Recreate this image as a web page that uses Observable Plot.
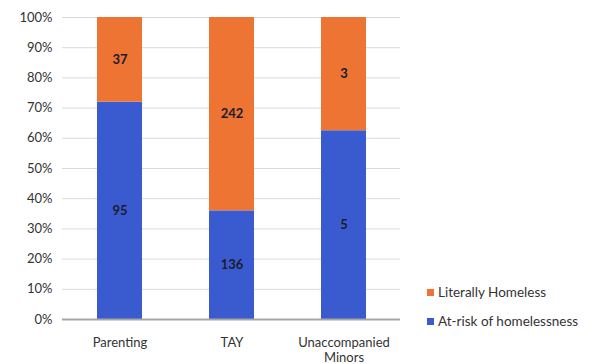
<!DOCTYPE html>
<html>
<head>
<meta charset="utf-8">
<script src="https://cdn.jsdelivr.net/npm/d3@7"></script>
<script src="https://cdn.jsdelivr.net/npm/@observablehq/plot@0.6"></script>
<style>
  html, body { margin: 0; padding: 0; background: #fff; }
  #wrap { position: relative; width: 597px; height: 364px; font-family: Lato, "Open Sans", sans-serif; }
  .legend { position: absolute; left: 427px; font-size: 13.5px; color: #333; display: flex; align-items: center; }
  .legend span.sw { display: inline-block; width: 7px; height: 7px; margin-right: 4px; }
</style>
</head>
<body>
<div id="wrap"></div>
<script>
// Stacked 100% bars: homelessness status by youth group
const groups = ["Parenting", "TAY", "Unaccompanied\nMinors"];
const atRisk = [95, 136, 5];
const literally = [37, 242, 3];
const seriesNames = ["At-risk of homelessness", "Literally Homeless"];
const seriesColors = ["#3a5bd0", "#ee7434"];
const yTicks = [0, 0.1, 0.2, 0.3, 0.4, 0.5, 0.6, 0.7, 0.8, 0.9, 1];

const rows = [];
groups.forEach((g, i) => {
  rows.push({group: g, status: seriesNames[0], value: atRisk[i]});
  rows.push({group: g, status: seriesNames[1], value: literally[i]});
});

const stackOpts = {offset: "normalize", x: "group", y: "value", z: "status", order: seriesNames};

const chart = Plot.plot({
  width: 597,
  height: 364,
  marginLeft: 62,
  marginRight: 197,
  marginTop: 17,
  marginBottom: 45,
  style: {fontFamily: "Lato, 'Open Sans', sans-serif", fontSize: "13px", color: "#333", background: "#fff"},
  x: {domain: groups, paddingInner: 0.6, paddingOuter: 0.3, label: null},
  y: {domain: [0, 1], ticks: yTicks, tickFormat: d3.format(".0%"), label: null, tickSize: 0, tickPadding: 10},
  color: {domain: seriesNames, range: seriesColors},
  marks: [
    Plot.ruleY(yTicks.slice(1), {stroke: "#d9d9d9", strokeWidth: 1}),
    Plot.barY(rows, Plot.stackY({...stackOpts, fill: "status"})),
    Plot.ruleY([0], {stroke: "#a6a6a6", strokeWidth: 2}),
    Plot.text(rows, Plot.stackY({...stackOpts, text: "value", fill: "#1b1b2e", fontSize: 13, fontWeight: "bold"})),
    Plot.axisX({tickSize: 0, tickPadding: 16, lineHeight: 1.2, label: null, fontSize: 13})
  ]
});

const wrap = document.getElementById("wrap");
wrap.appendChild(chart);

// Legend: top entry is the upper series
const legendItems = [[seriesNames[1], seriesColors[1], 284], [seriesNames[0], seriesColors[0], 313]];
for (const [name, color, top] of legendItems) {
  const div = document.createElement("div");
  div.className = "legend";
  div.style.top = top + "px";
  div.innerHTML = `<span class="sw" style="background:${color}"></span>${name}`;
  wrap.appendChild(div);
}
</script>
</body>
</html>
